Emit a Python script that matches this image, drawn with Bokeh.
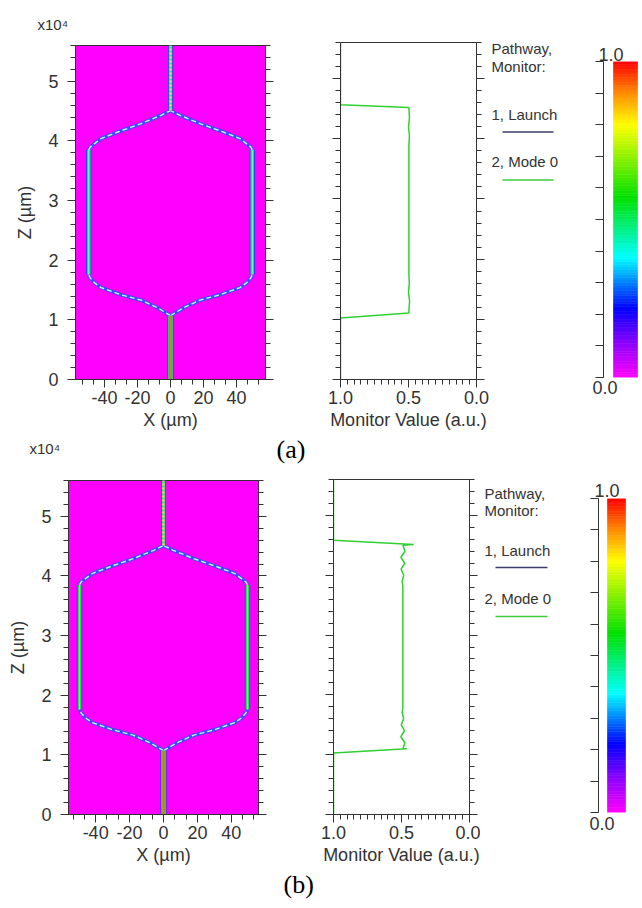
import numpy as np
from bokeh.plotting import figure
from bokeh.layouts import row, column
from bokeh.models import (Range1d, LinearAxis, SingleIntervalTicker, FixedTicker,
                          PrintfTickFormatter, CustomJSTickFormatter, Title)
from bokeh.core.properties import value
from bokeh.embed import file_html
from bokeh.resources import INLINE

# ---------------- data ----------------
# waveguide centre line (right half; the left half is its mirror). x in um, z in 1e4 um
wg_input_z = [0.0, 1.07]
wg_split_x = [0.0, 7.7, 17.8, 29.9, 42.0, 46.0, 48.5, 49.5]
wg_split_z = [1.07, 1.20, 1.33, 1.42, 1.54, 1.62, 1.70, 1.76]
wg_arm_x = [49.5, 49.5]
wg_arm_z = [1.76, 3.85]
wg_merge_x = [49.5, 48.5, 42.0, 31.9, 17.8, 5.7, 0.0]
wg_merge_z = [3.85, 3.90, 4.04, 4.15, 4.29, 4.43, 4.51]
wg_output_z = [4.51, 5.60]

# monitor value of pathway 2 (Mode 0) versus z (1e4 um)
mon_a_value = [1.0, 1.0, 0.497, 0.497, 0.492, 0.500, 0.494, 0.497, 0.497, 0.493, 0.500, 0.493, 0.497, 1.0, 1.0]
mon_a_z     = [0.0, 1.02, 1.105, 1.15, 1.30, 1.45, 1.60, 1.75, 3.90, 4.05, 4.20, 4.35, 4.52, 4.567, 5.60]

mon_b_value = [1.0, 1.0, 0.46, 0.49, 0.475, 0.505, 0.478, 0.502, 0.484, 0.495, 0.49, 0.49,
               0.495, 0.484, 0.503, 0.476, 0.505, 0.474, 0.49, 0.41, 1.0, 1.0]
mon_b_z     = [0.0, 1.03, 1.10, 1.10, 1.20, 1.30, 1.40, 1.50, 1.60, 1.70, 1.80, 3.82,
               3.90, 4.00, 4.10, 4.20, 4.30, 4.40, 4.50, 4.515, 4.585, 5.60]

legend_title = ["Pathway,", "Monitor:"]
legend_items = ["1, Launch", "2, Mode 0"]
legend_colors = ["#3c3c6e", "#3ccc3c"]

cbar_ticks = [0.0, 0.1, 0.2, 0.3, 0.4, 0.5, 0.6, 0.7, 0.8, 0.9, 1.0]

# ---------------- style ----------------
FONT = "Liberation Sans"
TXT = "#333333"
AX = "#333333"
BLANK = CustomJSTickFormatter(code="return ''")
INTFMT = CustomJSTickFormatter(code="return tick.toFixed(0)")

stops = [(0.00, (255, 0, 255)), (0.10, (150, 0, 255)), (0.22, (0, 0, 255)),
         (0.38, (0, 255, 255)), (0.57, (0, 225, 0)), (0.80, (255, 255, 0)),
         (0.90, (255, 140, 0)), (1.00, (255, 0, 0))]


def ramp(t):
    for (t0, c0), (t1, c1) in zip(stops[:-1], stops[1:]):
        if t <= t1:
            f = (t - t0) / (t1 - t0)
            return "#%02x%02x%02x" % tuple(int(round(a + (b - a) * f)) for a, b in zip(c0, c1))
    return "#ff0000"


def style_axis(ax, labels=True, tick_out=8, minor_out=5):
    ax.major_tick_in = 0
    ax.minor_tick_in = 0
    ax.major_tick_out = tick_out
    ax.minor_tick_out = minor_out
    ax.axis_line_color = AX
    ax.major_tick_line_color = AX
    ax.minor_tick_line_color = AX
    ax.major_label_text_font = FONT
    ax.major_label_text_color = TXT
    ax.major_label_text_font_size = "18px"
    ax.major_label_standoff = 3
    if not labels:
        ax.formatter = BLANK
        ax.major_label_standoff = 0
    ax.axis_label_text_font = FONT
    ax.axis_label_text_font_size = "18px"
    ax.axis_label_text_font_style = "normal"
    ax.axis_label_text_color = TXT
    ax.axis_label_standoff = 3


def title(p, text, side, align, offset, standoff, size="15px", font=FONT, color=TXT):
    p.add_layout(Title(text=text, align=align, offset=offset, standoff=standoff,
                       text_font=font, text_font_size=size, text_font_style="normal",
                       text_color=color), side)


def base(width, height, mbl, mbr, mbt, mbb, **kw):
    p = figure(width=width, height=height, output_backend="svg", toolbar_location=None,
               title=None, min_border_left=mbl, min_border_right=mbr,
               min_border_top=mbt, min_border_bottom=mbb, **kw)
    p.frame_align = False
    p.grid.visible = False
    return p


def heat_panel(xr, width, height, mbl, mbr, mbt, mbb):
    p = base(width, height, mbl, mbr, mbt, mbb, x_range=Range1d(*xr), y_range=Range1d(0, 5.6))
    p.background_fill_color = "#ff00ff"
    p.border_fill_color = "white"
    p.outline_line_color = AX
    p.xaxis.ticker = SingleIntervalTicker(interval=20, num_minor_ticks=3)
    p.xaxis.formatter = INTFMT
    p.yaxis.ticker = SingleIntervalTicker(interval=1, num_minor_ticks=5)
    p.xaxis.axis_label = "X (µm)"
    p.yaxis.axis_label = "Z (µm)"
    style_axis(p.xaxis[0])
    style_axis(p.yaxis[0])
    p.yaxis.major_label_standoff = 9
    p.yaxis.axis_label_standoff = 10
    right = LinearAxis(ticker=SingleIntervalTicker(interval=1, num_minor_ticks=5))
    style_axis(right, labels=False)
    p.add_layout(right, "right")

    for s in (1, -1):
        sx = [s * v for v in wg_split_x]
        mx = [s * v for v in wg_merge_x]
        ax_ = [s * v for v in wg_arm_x]
        p.line(sx, wg_split_z, line_color="#4448ff", line_width=3.6)
        p.line(mx, wg_merge_z, line_color="#4448ff", line_width=3.6)
        p.line(ax_, wg_arm_z, line_color="#3a3cff", line_width=5.5)
        p.line(ax_, wg_arm_z, line_color="#28e050", line_width=3.5)
        p.line(ax_, wg_arm_z, line_color="#70ffc8", line_width=1)
        p.line(sx, wg_split_z, line_color="#c0f6ff", line_width=1.4, line_dash="5 3")
        p.line(mx, wg_merge_z, line_color="#c0f6ff", line_width=1.4, line_dash="5 3")
    p.line([0, 0], wg_input_z, line_color="#3a3cff", line_width=6.5)
    p.line([0, 0], wg_input_z, line_color="#30e060", line_width=4.6)
    p.line([0, 0], wg_input_z, line_color="#c88410", line_width=2.6)
    p.line([0, 0], wg_output_z, line_color="#3a3cff", line_width=5)
    p.line([0, 0], wg_output_z, line_color="#40e070", line_width=3.2)
    p.line([0, 0], wg_output_z, line_color="#f4e040", line_width=2, line_dash="2 2")
    return p


def mon_panel(width, height, mbl, mbr, mbt, mbb, vals, zs):
    p = base(width, height, mbl, mbr, mbt, mbb, x_range=Range1d(1.0, 0.0), y_range=Range1d(0, 5.6))
    p.outline_line_color = AX
    p.xaxis.ticker = SingleIntervalTicker(interval=0.5, num_minor_ticks=10)
    p.xaxis.formatter = PrintfTickFormatter(format="%.1f")
    p.yaxis.ticker = SingleIntervalTicker(interval=1, num_minor_ticks=5)
    p.xaxis.axis_label = "Monitor Value (a.u.)"
    style_axis(p.xaxis[0])
    style_axis(p.yaxis[0], labels=False)
    right = LinearAxis(ticker=SingleIntervalTicker(interval=1, num_minor_ticks=5))
    style_axis(right, labels=False)
    p.add_layout(right, "right")
    p.line(vals, zs, line_color="#30d030", line_width=1.5)
    return p


def legend_panel(width, height, tx, lx0, lx1, ys):
    # frame fills the whole canvas; coordinates are canvas pixels (y downward)
    p = base(width, height, 0, 0, 0, 0, x_range=Range1d(0, width), y_range=Range1d(height, 0),
             x_axis_location=None, y_axis_location=None)
    p.outline_line_color = None
    texts = [legend_title[0], legend_title[1], legend_items[0], legend_items[1]]
    p.text(x=[tx] * 4, y=[ys[0], ys[1], ys[2], ys[4]], text=texts,
           text_font=value(FONT), text_font_size=value("15px"), text_baseline="middle",
           text_align="left", text_color=TXT)
    p.segment(x0=[lx0, lx0], y0=[ys[3], ys[5]], x1=[lx1, lx1], y1=[ys[3], ys[5]],
              line_color=legend_colors, line_width=1.6)
    return p


def cbar_panel(width, height, mbl, mbt, mbb, xw, bar, top_t, bot_t):
    p = base(width, height, mbl, 0, mbt, mbb, x_range=Range1d(0, xw), y_range=Range1d(0, 1),
             x_axis_location=None)
    p.outline_line_color = None
    p.yaxis.ticker = FixedTicker(ticks=cbar_ticks)
    style_axis(p.yaxis[0], labels=False, tick_out=8, minor_out=0)
    lev = np.linspace(0, 1, 121)
    cols = [ramp((a + b) / 2) for a, b in zip(lev[:-1], lev[1:])]
    p.quad(left=bar[0], right=bar[1], bottom=lev[:-1], top=lev[1:], fill_color=cols,
           line_color=cols, line_width=0.6)
    title(p, "%.1f" % cbar_ticks[-1], "above", "left", top_t[0], top_t[1], size="18px")
    title(p, "%.1f" % cbar_ticks[0], "below", "left", bot_t[0], bot_t[1], size="18px")
    return p


# ---------------- row (a) ----------------
a1 = heat_panel((-57.5, 57.5), 275, 465, 75, 10, 43, 86)
title(a1, "x10⁴", "above", "left", -38, 26)
title(a1, "x10⁴", "below", "left", -46, 11)          # exponent of panel (b), drawn in the gap
a2 = mon_panel(215, 465, 65, 14, 42, 86, mon_a_value, mon_a_z)
title(a2, "(a)", "below", "left", -64, 0, size="26px", font="Liberation Serif", color="black")
al = legend_panel(85, 465, 1, 12, 63, [48, 66, 114, 131.5, 161, 179.5])
a3 = cbar_panel(65, 465, 28, 61, 88, 37, (10, 34), (-5, 2), (-11, 2))

# ---------------- row (b) ----------------
b1 = heat_panel((-56, 56), 268, 441, 68, 10, 15, 92)
b2 = mon_panel(212, 441, 65, 11, 14, 92, mon_b_value, mon_b_z)
title(b2, "(b)", "below", "left", -50, 0, size="26px", font="Liberation Serif", color="black")
bl = legend_panel(90, 441, 4, 15, 67, [28, 45, 85, 102, 133, 151])
b3 = cbar_panel(70, 441, 28, 33, 94, 42, (9, 27), (-4, 3), (-9, 4))

layout = column(row(a1, a2, al, a3), row(b1, b2, bl, b3))
open("out.html", "w").write(file_html(layout, INLINE))
